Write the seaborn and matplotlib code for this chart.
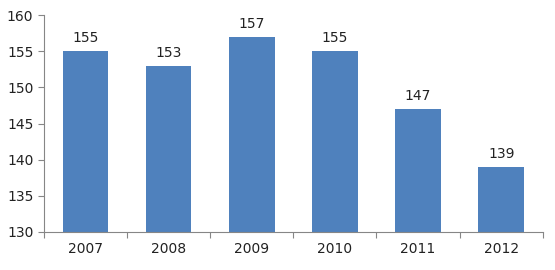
import matplotlib
matplotlib.use("Agg")
import matplotlib.pyplot as plt
import seaborn as sns
import pandas as pd

years = ["2007", "2008", "2009", "2010", "2011", "2012"]
values = [155, 153, 157, 155, 147, 139]

df = pd.DataFrame({"year": years, "value": values})

sns.set_style("white")
plt.rcParams["font.family"] = ["DejaVu Sans"]

fig = plt.figure(figsize=(5.55, 2.7), dpi=100)
ax = fig.add_axes([0.079, 0.141, 0.899, 0.803])

sns.barplot(data=df, x="year", y="value", color="#4F81BD", saturation=1,
            width=0.55, linewidth=0, ax=ax)

ax.set_ylim(130, 160)
ax.set_yticks(range(130, 161, 5))
ax.set_xlim(-0.5, len(years) - 0.5)
ax.set_xlabel("")
ax.set_ylabel("")

for i, v in enumerate(values):
    ax.text(i, v + 0.8, str(v), ha="center", va="bottom", fontsize=10, color="#222222")

for s in ["top", "right"]:
    ax.spines[s].set_visible(False)
for s in ["left", "bottom"]:
    ax.spines[s].set_color("#868686")
    ax.spines[s].set_linewidth(0.8)

ax.set_xticks([i + 0.5 for i in range(-1, len(years))], minor=True)
ax.tick_params(axis="x", which="major", length=0, labelsize=10, pad=7, colors="#222222")
ax.tick_params(axis="x", which="minor", bottom=True, length=4, width=0.8,
               color="#868686", direction="out")
ax.tick_params(axis="y", length=4, width=0.8, color="#868686", direction="out",
               labelsize=10, labelcolor="#222222", left=True)

fig.savefig("out.png", dpi=100)
